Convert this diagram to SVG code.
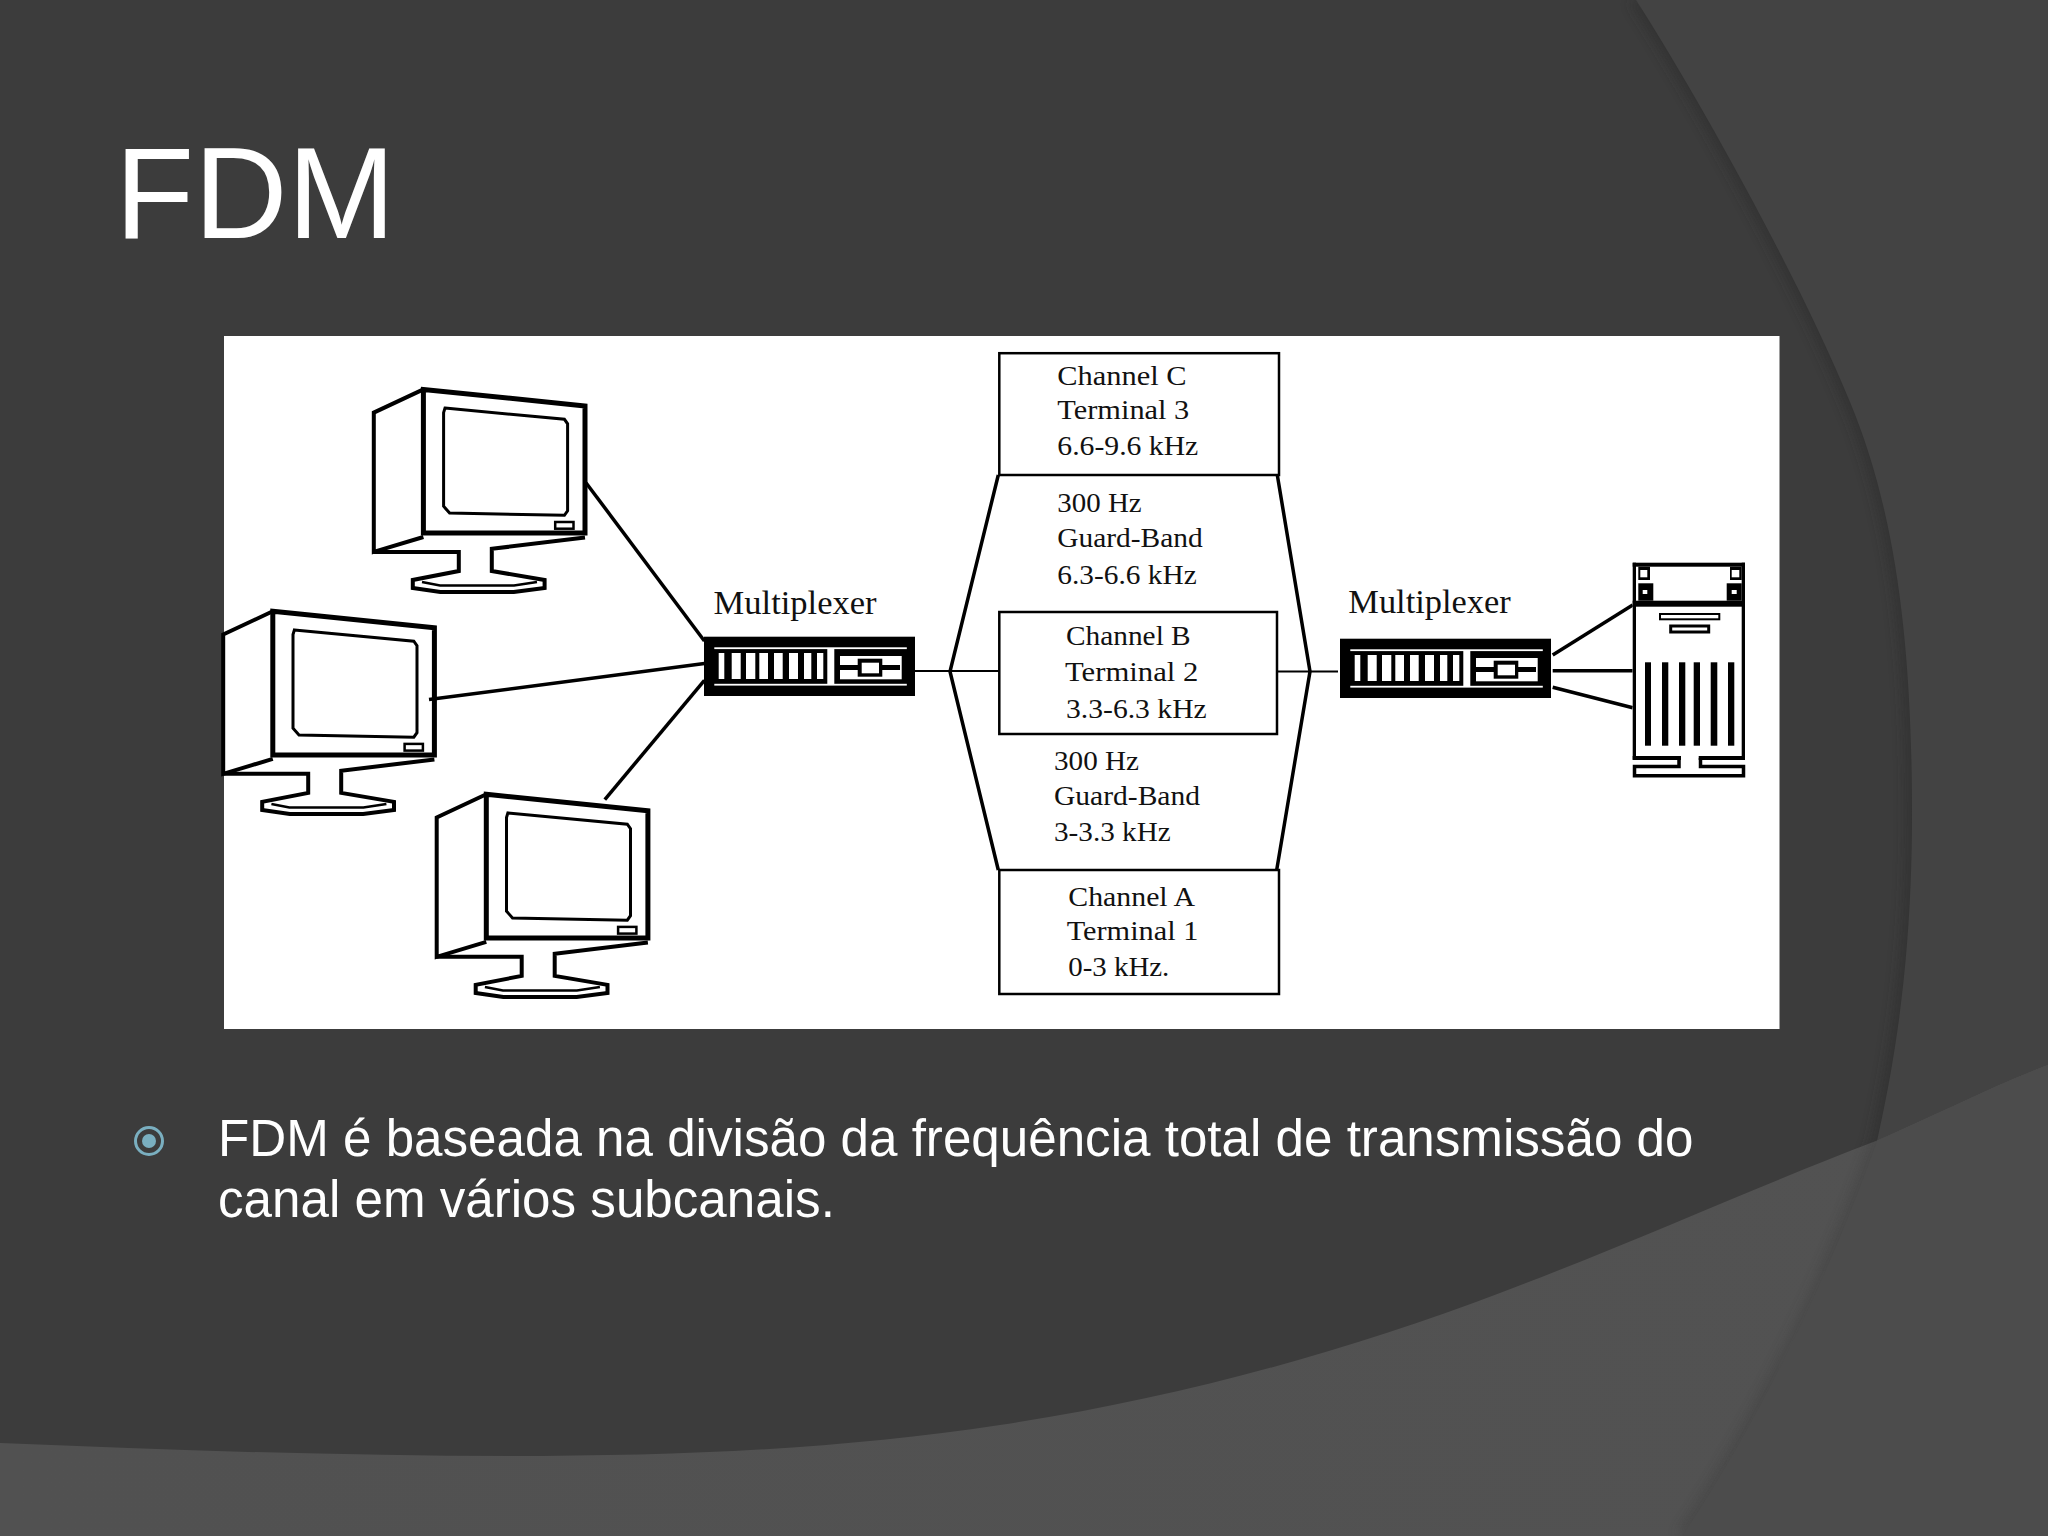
<svg xmlns="http://www.w3.org/2000/svg" xmlns:xlink="http://www.w3.org/1999/xlink" width="2048" height="1536" viewBox="0 0 2048 1536">
<style>
.ln{fill:none;stroke:#000;stroke-width:4;stroke-linejoin:miter}
.thk{fill:none;stroke:#000;stroke-width:6}
.thn{fill:none;stroke:#000;stroke-width:2.5}
.box{fill:none;stroke:#000;stroke-width:2.5}
.k{fill:#000}.w{fill:#fff}
.lab{font-family:"Liberation Serif","Times New Roman",serif;font-size:28px;fill:#111}
.mux{font-family:"Liberation Serif","Times New Roman",serif;font-size:33px;fill:#111}
.title{font-family:"Liberation Sans",Arial,sans-serif;font-size:129.5px;fill:#fff}
.body{font-family:"Liberation Sans",Arial,sans-serif;font-size:51.15px;fill:#fff}
.conn{fill:none;stroke:#000;stroke-width:3.5}
.conn2{fill:none;stroke:#000;stroke-width:2}
</style>
<defs>
<path id="arc" d="M1636,0 C1700,100 1800,280 1850,402 C1895,510 1912,640 1912,813 C1912,960 1895,1060 1877,1141 C1830,1274 1760,1420 1682,1536"/>
<path id="arcR" d="M1636,0 C1700,100 1800,280 1850,402 C1895,510 1912,640 1912,813 C1912,960 1895,1060 1877,1141 C1830,1274 1760,1420 1682,1536 H2048 V0 Z"/>
<path id="wave" d="M0,1443 C170,1450 340,1456 510,1456 C690,1456 850,1448 1000,1425 C1180,1398 1350,1350 1500,1293 C1640,1240 1760,1185 1876,1141 C1930,1118 1990,1087 2048,1065 V1536 H0 Z"/>
<clipPath id="waveClip"><use xlink:href="#wave"/></clipPath>
<filter id="blur" x="-20%" y="-5%" width="140%" height="110%"><feGaussianBlur stdDeviation="6"/></filter>
<linearGradient id="wg" x1="0" x2="1" y1="0" y2="0"><stop offset="0" stop-color="#515151"/><stop offset="1" stop-color="#525252"/></linearGradient>
<g id="monitor">
<path class="ln" style="stroke-width:5" d="M423.4,389.4 L585,405.9 V533 H423.4 Z"/>
<path class="ln" d="M423.4,389.4 L373.8,412.6 V551.9 L423.4,537"/>
<path class="ln" d="M373.8,551.9 H458.8 V571 L412.8,580 V588 L440.4,592 H513.8 L544.6,588 V580 L491.8,571 V548.8 L585,537.6"/>
<path class="thn" d="M422,582 L440,585.500 H514 L537,582"/>
<path class="ln" style="stroke-width:3" d="M445,408 L564.400,419.300 L567.600,423.800 V510.800 L564.400,515.300 L449.600,513 L443.600,506.300 V412.600 Z"/>
<rect x="555.200" y="522" width="18.300" height="6.700" class="thn"/>
</g>
<g id="muxbox">
<rect class="k" x="704" y="636.700" width="211" height="59.300"/>
<rect class="w" x="714.300" y="647.300" width="192.500" height="1.800"/>
<rect class="w" x="714.300" y="683.800" width="192.500" height="1.800"/>
<rect class="w" x="718.700" y="653" width="5.600" height="26"/>
<rect class="w" x="731.700" y="653" width="9" height="26"/>
<rect class="w" x="746" y="653" width="9.300" height="26"/>
<rect class="w" x="759.300" y="653" width="8.700" height="26"/>
<rect class="w" x="774" y="653" width="8.700" height="26"/>
<rect class="w" x="789" y="653" width="9" height="26"/>
<rect class="w" x="804" y="653" width="7.300" height="26"/>
<rect class="w" x="817" y="653" width="6.300" height="26"/>
<rect class="w" x="827.300" y="648" width="7" height="36"/>
<rect class="w" x="840" y="656" width="61.700" height="23.300"/>
<rect class="k" x="840" y="665" width="60" height="5"/>
<rect class="k" x="857.700" y="658.700" width="24.600" height="18"/>
<rect class="w" x="861.700" y="662.700" width="17.300" height="10.600"/>
</g>
</defs>

<g id="background">
<rect width="2048" height="1536" fill="#3c3c3c"/>
<use xlink:href="#arc" fill="none" stroke="#2c2c2c" stroke-width="12" opacity=".55" filter="url(#blur)"/>
<use xlink:href="#arcR" fill="#434343"/>
<use xlink:href="#wave" fill="url(#wg)"/>
<g clip-path="url(#waveClip)">
<use xlink:href="#arc" fill="none" stroke="#3a3a3a" stroke-width="10" opacity=".45" filter="url(#blur)"/>
<use xlink:href="#arcR" fill="#4c4c4c"/>
</g>
</g>

<text id="title" class="title" x="115" y="238">FDM</text>

<rect id="picture" x="224" y="336" width="1555.500" height="693" fill="#fff"/>

<g id="connectors">
<path class="conn" d="M586,482.700 L704.400,641"/>
<path class="conn" d="M429,699.600 L704.400,663.500"/>
<path class="conn" d="M604.800,799.600 L704.400,680.400"/>
<path class="conn2" d="M915,671 H999.300"/>
<path class="conn2" d="M1277,671.500 H1338"/>
<path class="conn" d="M998.300,475 L950,671.500 L998.300,870"/>
<path class="conn" d="M1277.300,475 L1310,671.500 L1276.700,870"/>
<path class="conn" d="M1552.700,655 L1632.700,605"/>
<path class="conn" d="M1552.700,670.700 H1632.700"/>
<path class="conn" d="M1552.700,687.300 L1632.700,707.700"/>
</g>

<g id="terminal-3"><use xlink:href="#monitor"/></g>
<g id="terminal-2"><use xlink:href="#monitor" transform="translate(-150.600,221.900)"/></g>
<g id="terminal-1"><use xlink:href="#monitor" transform="translate(62.900,404.900)"/></g>

<g id="multiplexer-left">
<use xlink:href="#muxbox"/>
<text class="mux" x="713.600" y="613.500" textLength="163" lengthAdjust="spacingAndGlyphs">Multiplexer</text>
</g>
<g id="multiplexer-right">
<use xlink:href="#muxbox" transform="translate(636,2)"/>
<text class="mux" x="1348.300" y="612.700" textLength="162.400" lengthAdjust="spacingAndGlyphs">Multiplexer</text>
</g>

<g id="channel-c">
<rect class="box" x="999.300" y="353.200" width="279.700" height="121.800"/>
<text class="lab" x="1057.300" y="384.500" textLength="129.400" lengthAdjust="spacingAndGlyphs">Channel C</text>
<text class="lab" x="1057.300" y="419.300" textLength="132" lengthAdjust="spacingAndGlyphs">Terminal 3</text>
<text class="lab" x="1057.300" y="455" textLength="141" lengthAdjust="spacingAndGlyphs">6.6-9.6 kHz</text>
</g>
<g id="guard-band-upper">
<text class="lab" x="1057.300" y="512" textLength="84.400" lengthAdjust="spacingAndGlyphs">300 Hz</text>
<text class="lab" x="1057.300" y="547.400" textLength="145.400" lengthAdjust="spacingAndGlyphs">Guard-Band</text>
<text class="lab" x="1057.300" y="583.600" textLength="139.400" lengthAdjust="spacingAndGlyphs">6.3-6.6 kHz</text>
</g>
<g id="channel-b">
<rect class="box" x="999.300" y="612" width="277.700" height="122"/>
<text class="lab" x="1066" y="645" textLength="124.700" lengthAdjust="spacingAndGlyphs">Channel B</text>
<text class="lab" x="1065" y="681.300" textLength="133.300" lengthAdjust="spacingAndGlyphs">Terminal 2</text>
<text class="lab" x="1066" y="717.500" textLength="140.700" lengthAdjust="spacingAndGlyphs">3.3-6.3 kHz</text>
</g>
<g id="guard-band-lower">
<text class="lab" x="1054" y="769.700" textLength="85" lengthAdjust="spacingAndGlyphs">300 Hz</text>
<text class="lab" x="1054" y="804.600" textLength="146" lengthAdjust="spacingAndGlyphs">Guard-Band</text>
<text class="lab" x="1054" y="841" textLength="116.700" lengthAdjust="spacingAndGlyphs">3-3.3 kHz</text>
</g>
<g id="channel-a">
<rect class="box" x="999.300" y="870" width="279.700" height="124"/>
<text class="lab" x="1068.300" y="906" textLength="126.700" lengthAdjust="spacingAndGlyphs">Channel A</text>
<text class="lab" x="1066.700" y="940" textLength="131.600" lengthAdjust="spacingAndGlyphs">Terminal 1</text>
<text class="lab" x="1068.300" y="976" textLength="101" lengthAdjust="spacingAndGlyphs">0-3 kHz.</text>
</g>

<g id="server">
<rect class="w" x="1632.700" y="562.700" width="112.300" height="197"/>
<rect class="k" x="1632.700" y="562.700" width="112.300" height="4"/>
<rect class="k" x="1632.700" y="600.700" width="112.300" height="6"/>
<rect class="k" x="1632.700" y="562.700" width="3.300" height="197"/>
<rect class="k" x="1741.700" y="562.700" width="3.300" height="197"/>
<rect class="k" x="1638.300" y="566.700" width="11.700" height="13.300"/>
<rect class="w" x="1640.300" y="570" width="7" height="7.300"/>
<rect class="k" x="1730" y="566.700" width="11.700" height="13.300"/>
<rect class="w" x="1731.700" y="570" width="7.600" height="7.300"/>
<rect class="k" x="1638.300" y="583.300" width="15" height="17.400"/>
<rect class="w" x="1642.700" y="590" width="4.600" height="4"/>
<rect class="k" x="1726.700" y="583.300" width="15" height="17.400"/>
<rect class="w" x="1731.700" y="590" width="5" height="4"/>
<rect class="thn" style="stroke-width:2" x="1660" y="614" width="59.300" height="5.300"/>
<rect class="thn" style="stroke-width:3" x="1670.700" y="626" width="38" height="6"/>
<rect class="k" x="1645" y="662.300" width="6" height="83.400"/>
<rect class="k" x="1662" y="662.300" width="6.300" height="83.400"/>
<rect class="k" x="1679" y="662.300" width="6.300" height="83.400"/>
<rect class="k" x="1693.700" y="662.300" width="6.300" height="83.400"/>
<rect class="k" x="1710.700" y="662.300" width="6.600" height="83.400"/>
<rect class="k" x="1728" y="662.300" width="6.300" height="83.400"/>
<rect class="k" x="1632.700" y="756" width="112.300" height="4"/>
<rect class="w" x="1681" y="756" width="17.700" height="4.500"/>
<rect class="w" x="1632.700" y="760" width="112.300" height="18"/>
<path class="thn" style="stroke-width:3.500" d="M1679,758 V766.500 H1634.500 V775.800 H1743.500 V766.500 H1700.500 V758"/>
</g>

<g id="bullet">
<circle cx="149" cy="1141" r="13.500" fill="none" stroke="#7aafc0" stroke-width="3"/>
<circle cx="149" cy="1141" r="7" fill="#7aafc0"/>
</g>
<text id="body-line-1" class="body" x="218" y="1155.700">FDM é baseada na divisão da frequência total de transmissão do</text>
<text id="body-line-2" class="body" x="218" y="1216.700">canal em vários subcanais.</text>
</svg>
